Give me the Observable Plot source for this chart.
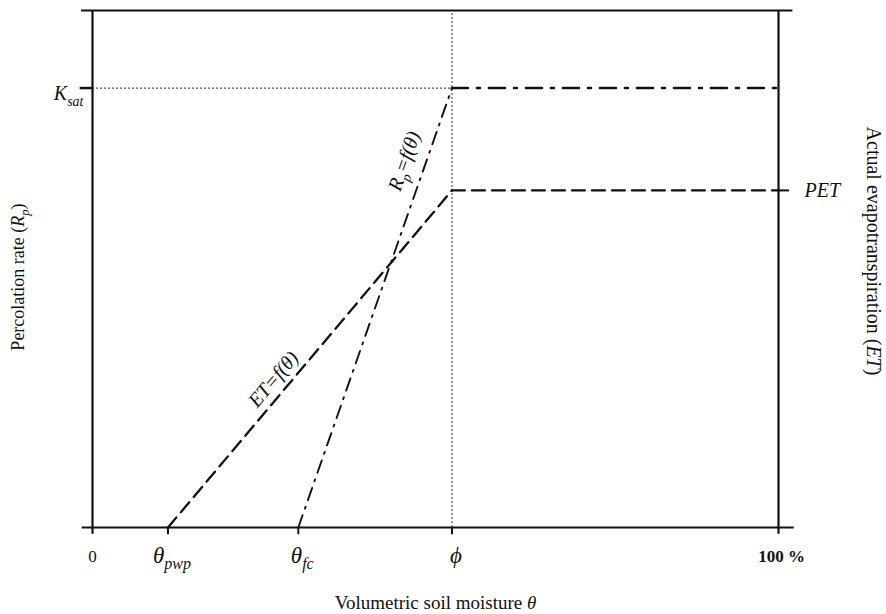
<!DOCTYPE html>
<html>
<head>
<meta charset="utf-8">
<script src="https://cdn.jsdelivr.net/npm/d3@7"></script>
<script src="https://cdn.jsdelivr.net/npm/@observablehq/plot@0.6"></script>
<style>
  html, body { margin: 0; padding: 0; background: #fff; }
  svg { display: block; }
</style>
</head>
<body>
<div id="chart"></div>
<script>
// Soil moisture thresholds (% volumetric) and rate levels (% of axis height)
const thetaPwp = 11;     // permanent wilting point
const thetaFc = 30;      // field capacity
const phi = 52.4;        // porosity (saturation)
const Ksat = 85;         // saturated hydraulic conductivity
const PET = 65.2;        // potential evapotranspiration

// Bottom axis ticks: plain numbers and symbolic thresholds
const numberTicks = [0, 100];
const numberTickLabels = ["0", "100 %"];
const symbolTicks = [thetaPwp, thetaFc, phi];
const symbolTickLabels = ["*θ_{pwp}*", "*θ_{fc}*", "*ϕ*"];

// Function curves
const etCurve = [{x: thetaPwp, y: 0}, {x: phi, y: PET}];
const etPlateau = [{x: phi, y: PET}, {x: 100, y: PET}];
const rpCurve = [{x: thetaFc, y: 0}, {x: phi, y: Ksat}];
const rpPlateau = [{x: phi, y: Ksat}, {x: 100, y: Ksat}];

const W = 886, H = 614;
const M = {top: 10, right: 108, bottom: 87, left: 92};
const pw = W - M.left - M.right, ph = H - M.top - M.bottom;

// screen angle of a segment (degrees, clockwise) for rotating in-line labels
function angleOf(seg) {
  const dx = (seg[1].x - seg[0].x) / 100 * pw;
  const dy = -(seg[1].y - seg[0].y) / 100 * ph;
  return Math.atan2(dy, dx) * 180 / Math.PI;
}
function along(seg, t) {
  return {x: seg[0].x + (seg[1].x - seg[0].x) * t, y: seg[0].y + (seg[1].y - seg[0].y) * t};
}
const etAngle = angleOf(etCurve), rpAngle = angleOf(rpCurve);
const etLabel = [{...along(etCurve, 0.41), text: "*ET=f(θ)*"}];
const rpLabel = [{...along(rpCurve, 0.82), text: "*R_{p}=f(θ)*"}];

const serif = "'Liberation Serif', 'DejaVu Serif', serif";
const numberData = numberTicks.map((v, i) => ({v, label: numberTickLabels[i]}));
const symbolData = symbolTicks.map((v, i) => ({v, label: symbolTickLabels[i]}));

const svg = Plot.plot({
  width: W,
  height: H,
  marginTop: M.top, marginRight: M.right, marginBottom: M.bottom, marginLeft: M.left,
  style: {fontFamily: serif, background: "#fff", color: "#111"},
  x: {domain: [0, 100], axis: null},
  y: {domain: [0, 100], axis: null},
  marks: [
    // guide lines at saturation
    Plot.ruleX([phi], {y1: 0, y2: 100, stroke: "#555", strokeWidth: 1.2, strokeDasharray: "2,2"}),
    Plot.ruleY([Ksat], {x1: 0, x2: phi, stroke: "#555", strokeWidth: 1.2, strokeDasharray: "2,2"}),
    // frame
    Plot.ruleY([100], {x1: -1.6, x2: 102.1, stroke: "#111", strokeWidth: 2.2}),
    Plot.ruleY([0], {x1: -1.5, x2: 102.3, stroke: "#111", strokeWidth: 2.2}),
    Plot.ruleX([0, 100], {y1: -1.3, y2: 100, stroke: "#111", strokeWidth: 2.2}),
    // ticks
    Plot.ruleX(symbolTicks, {y1: -1.4, y2: 0, stroke: "#111", strokeWidth: 2}),
    Plot.ruleY([Ksat], {x1: -1.8, x2: 0, stroke: "#111", strokeWidth: 2.5}),
    Plot.ruleY([PET], {x1: 100, x2: 101.6, stroke: "#111", strokeWidth: 2}),
    // evapotranspiration curve
    Plot.line(etCurve, {x: "x", y: "y", stroke: "#111", strokeWidth: 2.3, strokeDasharray: "13,7"}),
    Plot.line(etPlateau, {x: "x", y: "y", stroke: "#111", strokeWidth: 2.3, strokeDasharray: "13,7"}),
    // percolation curve
    Plot.line(rpCurve, {x: "x", y: "y", stroke: "#111", strokeWidth: 1.9, strokeDasharray: "13,7,2,7"}),
    Plot.line(rpPlateau, {x: "x", y: "y", stroke: "#111", strokeWidth: 2.6, strokeDasharray: "16,9,3,9"}),
    // in-line labels
    Plot.text(etLabel, {x: "x", y: "y", text: "text", rotate: etAngle, dx: -11, dy: -10, fontSize: 20}),
    Plot.text(rpLabel, {x: "x", y: "y", text: "text", rotate: rpAngle, dx: -20, dy: -6, fontSize: 20}),
    // tick labels
    Plot.text(numberData.slice(0, 1), {x: "v", y: 0, text: "label", dy: 29, fontSize: 17}),
    Plot.text(numberData.slice(1), {x: "v", y: 0, text: "label", dy: 29, dx: 3, fontSize: 17, fontWeight: "bold"}),
    Plot.text(symbolData, {x: "v", y: 0, text: "label", dy: 28, dx: 4, fontSize: 23}),
    Plot.text(["*K_{sat}*"], {x: 0, y: Ksat, text: d => d, dx: -9, dy: 6, textAnchor: "end", fontSize: 20}),
    Plot.text(["*PET*"], {x: 100, y: PET, text: d => d, dx: 26, textAnchor: "start", fontSize: 20}),
    // axis titles
    Plot.text(["Volumetric soil moisture *θ*"], {x: 50, y: 0, text: d => d, dy: 75, fontSize: 19}),
    Plot.text(["Percolation rate (*R_{p}*)"], {x: 0, y: 50, text: d => d, dx: -74, dy: 8, rotate: -90, fontSize: 18}),
    Plot.text(["Actual evapotranspiration (*ET*)"], {x: 100, y: 50, text: d => d, dx: 95, dy: -18, rotate: 90, fontSize: 20})
  ]
});

document.getElementById("chart").appendChild(svg);

// Turn lightweight markup (*italic*, _{subscript}) in text marks into tspans
svg.querySelectorAll("text").forEach(el => {
  const s = el.textContent;
  if (!/[*_]/.test(s)) return;
  const fs = parseFloat(getComputedStyle(el).fontSize) || 16;
  el.textContent = "";
  let italic = false, shifted = 0;
  const re = /_\{([^}]*)\}|\*|([^*_]+)/g;
  let m;
  while ((m = re.exec(s))) {
    if (m[0] === "*") { italic = !italic; continue; }
    const t = document.createElementNS("http://www.w3.org/2000/svg", "tspan");
    if (italic) t.setAttribute("font-style", "italic");
    if (m[1] !== undefined) {
      t.textContent = m[1];
      t.setAttribute("font-size", (fs * 0.7).toFixed(1));
      t.setAttribute("dy", (fs * 0.28).toFixed(1));
      shifted = fs * 0.28;
    } else {
      t.textContent = m[2];
      if (shifted) { t.setAttribute("dy", (-shifted).toFixed(1)); shifted = 0; }
    }
    el.appendChild(t);
  }
});
</script>
</body>
</html>
